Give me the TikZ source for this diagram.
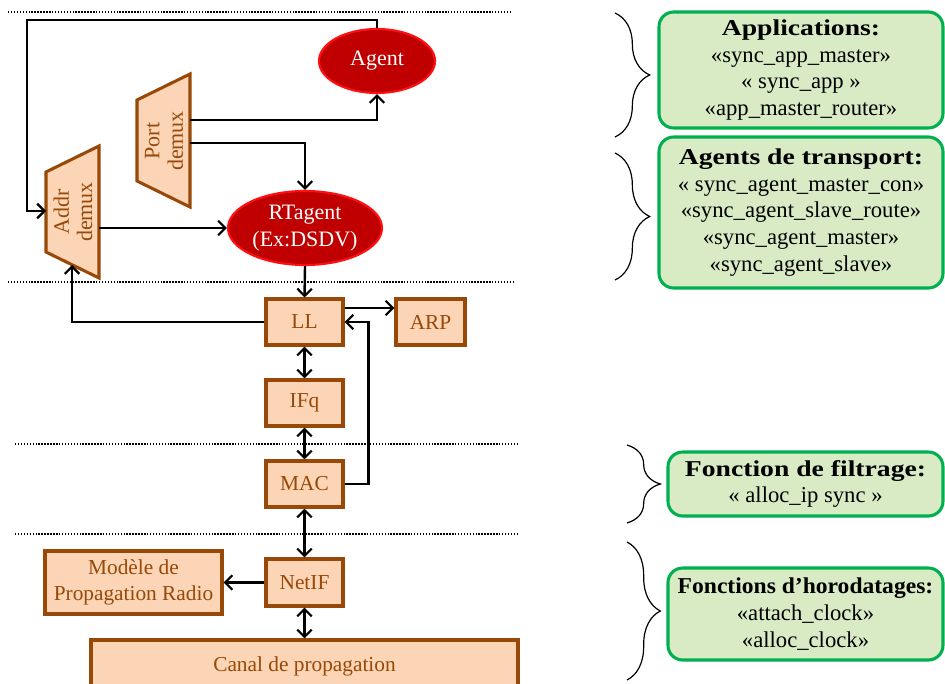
\documentclass[tikz,border=0pt]{standalone}
\usepackage{fontspec}
\setmainfont{Liberation Serif}
\newfontfamily\headfont{Liberation Serif}[FakeStretch=1.22]
\newfontfamily\headfontn{Liberation Serif}[FakeStretch=1.04]
\usetikzlibrary{arrows.meta,decorations.pathreplacing,calc,shapes.geometric}
\definecolor{peach}{HTML}{FBD5B5}
\definecolor{brownb}{HTML}{984807}
\definecolor{darkred}{HTML}{C00000}
\definecolor{redb}{HTML}{FF1010}
\definecolor{lgreen}{HTML}{D8EBC5}
\definecolor{gborder}{HTML}{00B050}
\newcommand{\hd}[1]{{\headfont\bfseries #1}}
\newcommand{\hdn}[1]{{\headfontn\bfseries #1}}
\tikzset{
  boxst/.style={draw=brownb, fill=peach, line width=2.3pt, text=brownb, align=center, inner sep=0pt,
    font=\fontsize{16}{20}\selectfont},
  ellst/.style={ellipse, draw=redb, fill=darkred, line width=1.6pt, text=white, align=center, inner sep=0pt,
    font=\fontsize{16.5}{20}\selectfont},
  greenst/.style={draw=gborder, fill=lgreen, line width=2.3pt, rounded corners=11pt, align=center, inner sep=0pt,
    font=\fontsize{17}{20}\selectfont},
  conn/.style={line width=1.8pt, -{Straight Barb[length=5.5pt,width=11pt,line width=1.6pt]}},
  bconn/.style={line width=1.8pt, {Straight Barb[length=5.5pt,width=11pt,line width=1.6pt]}-{Straight Barb[length=5.5pt,width=11pt,line width=1.6pt]}},
  sep/.style={line width=1.1pt, dash pattern=on 1.1pt off 1.1pt},
  bracest/.style={decorate, line width=0.9pt},
  trapst/.style={draw=brownb, fill=peach, line width=2.3pt},
  traptext/.style={rotate=90, text=brownb, align=center, font=\fontsize{16.5}{17.5}\selectfont},
}
\begin{document}
\begin{tikzpicture}[x=0.75pt,y=-0.75pt]
\useasboundingbox (0,0) rectangle (945,684);

% separators
\draw[sep] (8,12) -- (510,12);
\draw[sep] (8,282) -- (515,282);
\draw[sep] (15,444) -- (517,444);
\draw[sep] (15,534) -- (517,534);

% trapezoids
\path[trapst] (137,100) -- (190,74) -- (190,207) -- (137,181) -- cycle;
\node[traptext] (port) at (164,141) {Port\\demux};
\path[trapst] (46,172) -- (99,146) -- (99,278) -- (46,252) -- cycle;
\node[traptext] (addr) at (73,212) {Addr\\demux};
\coordinate (portA) at (190,120);
\coordinate (portB) at (190,143);
\coordinate (addrL) at (46,211);
\coordinate (addrR) at (99,228);
\coordinate (addrB) at (72,265);

% ellipses
\node[ellst, minimum width=116*0.75pt, minimum height=64*0.75pt] (agent) at (377,61) {Agent};
\node[ellst, minimum width=154*0.75pt, minimum height=74*0.75pt] (rtagent) at (305,228) {RTagent\\(Ex:DSDV)};

% boxes
\node[boxst, minimum width=77*0.75pt, minimum height=46*0.75pt] (LL) at (304.5,322) {LL};
\node[boxst, minimum width=69*0.75pt, minimum height=46*0.75pt] (ARP) at (430.5,322) {ARP};
\node[boxst, minimum width=77*0.75pt, minimum height=46*0.75pt] (IFq) at (304.5,403) {IFq};
\node[boxst, minimum width=77*0.75pt, minimum height=46*0.75pt] (MAC) at (304.5,484) {MAC};
\node[boxst, minimum width=77*0.75pt, minimum height=47*0.75pt] (NetIF) at (304.5,582.5) {NetIF};
\node[boxst, minimum width=177*0.75pt, minimum height=63*0.75pt] (modele) at (133.5,582.5) {Modèle de\\Propagation Radio};
\node[boxst, minimum width=427*0.75pt, minimum height=70*0.75pt, text depth=17pt] (canal) at (304.5,675) {Canal de propagation};

% connectors
\draw[conn] (agent.north) -- ++(0,-8) -| ($(addrL)+(-19,0)$) -- (addrL);
\draw[conn] (portA) -| (agent.south);
\draw[conn] (portB) -| (rtagent.north);
\draw[conn] (addrR) -- (rtagent.west);
\draw[conn] (rtagent.south) -- (LL.north);
\draw[conn] (LL.west) -| (addrB);
\draw[conn] ([yshift=10.5pt]LL.east) -- ([yshift=10.5pt]ARP.west);
\draw[conn] (MAC.east) -- ++(24,0) |- (LL.east);
\draw[bconn] (LL.south) -- (IFq.north);
\draw[bconn] (IFq.south) -- (MAC.north);
\draw[bconn] (MAC.south) -- (NetIF.north);
\draw[conn] (NetIF.west) -- (modele.east);
\draw[bconn] (NetIF.south) -- (canal.north);

% braces
\draw[bracest, decoration={brace, amplitude=26pt}] (615,13) -- (615,137);
\draw[bracest, decoration={brace, amplitude=26pt}] (615,153) -- (615,280);
\draw[bracest, decoration={brace, amplitude=25pt}] (627,445) -- (627,523);
\draw[bracest, decoration={brace, amplitude=25pt}] (627,542) -- (627,680);

% green boxes
\node[greenst, minimum width=284*0.75pt, minimum height=116*0.75pt] (g1) at (801,70)
  {\hd{Applications:}\\«sync\_app\_master»\\« sync\_app »\\«app\_master\_router»};
\node[greenst, minimum width=284*0.75pt, minimum height=151*0.75pt] (g2) at (801,212.5)
  {\hd{Agents de transport:}\\« sync\_agent\_master\_con»\\«sync\_agent\_slave\_route»\\«sync\_agent\_master»\\«sync\_agent\_slave»};
\node[greenst, minimum width=275*0.75pt, minimum height=64*0.75pt] (g3) at (805.5,484)
  {\hd{Fonction de filtrage:}\\« alloc\_ip sync »};
\node[greenst, minimum width=275*0.75pt, minimum height=92*0.75pt] (g4) at (805.5,614)
  {\hdn{Fonctions d’horodatages:}\\«attach\_clock»\\«alloc\_clock»};
\end{tikzpicture}
\end{document}
